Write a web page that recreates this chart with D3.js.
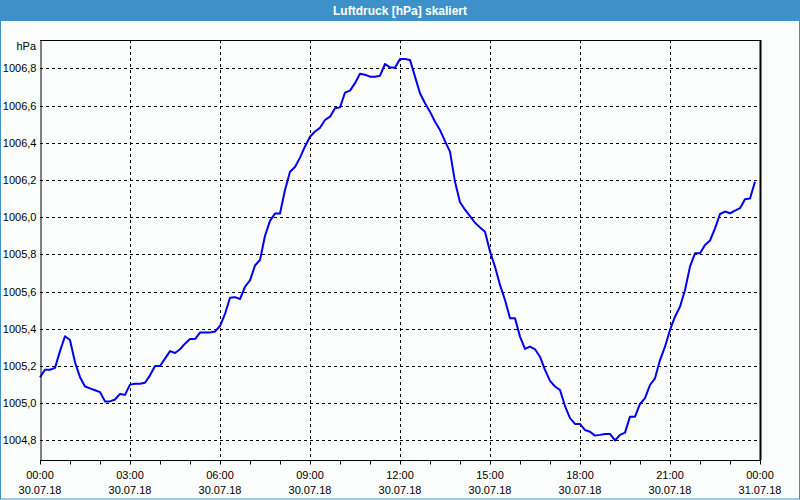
<!DOCTYPE html>
<html><head><meta charset="utf-8">
<script src="https://cdn.jsdelivr.net/npm/d3@7"></script>
<style>
html,body{margin:0;padding:0;background:#fbfdfc;}
svg{display:block;}
</style></head>
<body>
<svg id="chart" width="800" height="500"></svg>
<script>
const title = "Luftdruck [hPa] skaliert";
const unitLabel = "hPa";
// time in hours since 30.07.18 00:00, one value every 10 minutes
const values = [
1005.14,1005.18,1005.18,1005.19,1005.28,1005.36,
1005.34,1005.22,1005.14,1005.09,1005.08,1005.07,
1005.06,1005.01,1005.01,1005.02,1005.05,1005.045,
1005.10,1005.105,1005.105,1005.11,1005.15,1005.20,
1005.20,1005.24,1005.28,1005.27,1005.29,1005.32,
1005.345,1005.345,1005.38,1005.38,1005.38,1005.385,
1005.415,1005.48,1005.567,1005.57,1005.56,1005.626,
1005.66,1005.74,1005.77,1005.90,1005.98,1006.02,
1006.02,1006.146,1006.244,1006.27,1006.32,1006.38,
1006.432,1006.46,1006.48,1006.522,1006.54,1006.585,
1006.59,1006.669,1006.68,1006.72,1006.771,1006.765,
1006.755,1006.755,1006.76,1006.823,1006.805,1006.803,
1006.85,1006.85,1006.845,1006.755,1006.666,1006.612,
1006.567,1006.513,1006.468,1006.409,1006.352,1006.19,
1006.08,1006.04,1006.005,1005.97,1005.945,1005.922,
1005.815,1005.734,1005.636,1005.555,1005.457,1005.457,
1005.358,1005.292,1005.304,1005.29,1005.25,1005.179,
1005.12,1005.09,1005.071,1004.985,1004.92,1004.889,
1004.889,1004.856,1004.847,1004.826,1004.83,1004.835,
1004.835,1004.80,1004.83,1004.842,1004.928,1004.928,
1004.996,1005.027,1005.098,1005.134,1005.232,1005.304,
1005.394,1005.465,1005.519,1005.609,1005.734,1005.806,
1005.806,1005.85,1005.874,1005.94,1006.017,1006.03,
1006.021,1006.035,1006.048,1006.096,1006.10,1006.19
];
const times = values.map((v,i)=>i/6);
const yTicks = [1004.8,1005.0,1005.2,1005.4,1005.6,1005.8,1006.0,1006.2,1006.4,1006.6,1006.8];
const xTicks = [0,3,6,9,12,15,18,21,24];
const xTimeLabels = ["00:00","03:00","06:00","09:00","12:00","15:00","18:00","21:00","00:00"];
const xDateLabels = ["30.07.18","30.07.18","30.07.18","30.07.18","30.07.18","30.07.18","30.07.18","30.07.18","31.07.18"];
const xMinorTicks = d3.range(0,25,1);

const svg = d3.select("#chart");
const font = "'Liberation Sans', Arial, sans-serif";
const L=40, R=760, T=40, B=460;
const x = d3.scaleLinear().domain([0,24]).range([L,R]);
const y = d3.scaleLinear().domain([1004.695,1006.952]).range([B,T]);
const deLocale = d3.formatLocale({decimal:",",thousands:".",grouping:[3],currency:["","€"]});
const fmt = deLocale.format(".1f");

// background
svg.append("rect").attr("width",800).attr("height",500).attr("fill","#fbfdfc");
// title bar
svg.append("rect").attr("x",0).attr("y",0).attr("width",800).attr("height",21).attr("fill","#3d91c8");
svg.append("text").attr("x",400).attr("y",15).attr("text-anchor","middle")
  .attr("fill","#ffffff").attr("font-family",font).attr("font-size",12).attr("font-weight","bold").text(title);
// window border
svg.append("rect").attr("x",0.5).attr("y",0.5).attr("width",799).attr("height",498.5)
  .attr("fill","none").attr("stroke","#3d91c8").attr("stroke-width",1);

// grid
const g = svg.append("g");
g.selectAll("line.hg").data(yTicks).join("line")
  .attr("x1",L).attr("x2",R)
  .attr("y1",d=>Math.round(y(d))+0.5).attr("y2",d=>Math.round(y(d))+0.5)
  .attr("stroke","#000").attr("stroke-width",1).attr("stroke-dasharray","3,3");
g.selectAll("line.vg").data(xTicks.slice(1,-1)).join("line")
  .attr("x1",d=>Math.round(x(d))+0.5).attr("x2",d=>Math.round(x(d))+0.5)
  .attr("y1",T).attr("y2",B)
  .attr("stroke","#000").attr("stroke-width",1).attr("stroke-dasharray","3,3");

// frame
svg.append("line").attr("x1",L).attr("x2",R+1).attr("y1",T+0.5).attr("y2",T+0.5).attr("stroke","#000");
svg.append("line").attr("x1",R+0.5).attr("x2",R+0.5).attr("y1",T).attr("y2",B).attr("stroke","#000").attr("stroke-width",2);

// line
const line = d3.line().x((d,i)=>x(times[i])).y(d=>y(d));
svg.append("path").datum(values).attr("d",line).attr("fill","none")
  .attr("stroke","#0000ee").attr("stroke-width",2).attr("stroke-linejoin","round");

// y axis
const yAxis = d3.axisLeft(y).tickValues(yTicks).tickSize(0).tickPadding(4).tickFormat(fmt);
const ya = svg.append("g").attr("transform",`translate(${L+0.5},0)`).call(yAxis);
ya.select(".domain").attr("stroke","#000");
ya.selectAll("text").attr("font-family",font).attr("font-size",11).attr("fill","#000");
svg.append("text").attr("x",36).attr("y",50).attr("text-anchor","end")
  .attr("font-family",font).attr("font-size",11).attr("fill","#000").text(unitLabel);

// x axis
const xAxis = d3.axisBottom(x).tickValues(xMinorTicks).tickSize(4).tickFormat("");
const xa = svg.append("g").attr("transform",`translate(0,${B+0.5})`).call(xAxis);
xa.select(".domain").attr("stroke","#000").attr("d",`M${L},0H${R+1}`);
xa.selectAll(".tick line").attr("stroke","#000");
svg.append("g").selectAll("text").data(xTicks).join("text")
  .attr("x",d=>x(d)).attr("y",479).attr("text-anchor","middle")
  .attr("font-family",font).attr("font-size",11).attr("fill","#000")
  .text((d,i)=>xTimeLabels[i]);
svg.append("g").selectAll("text").data(xTicks).join("text")
  .attr("x",d=>x(d)).attr("y",494).attr("text-anchor","middle")
  .attr("font-family",font).attr("font-size",11).attr("fill","#000")
  .text((d,i)=>xDateLabels[i]);
</script>
</body></html>
